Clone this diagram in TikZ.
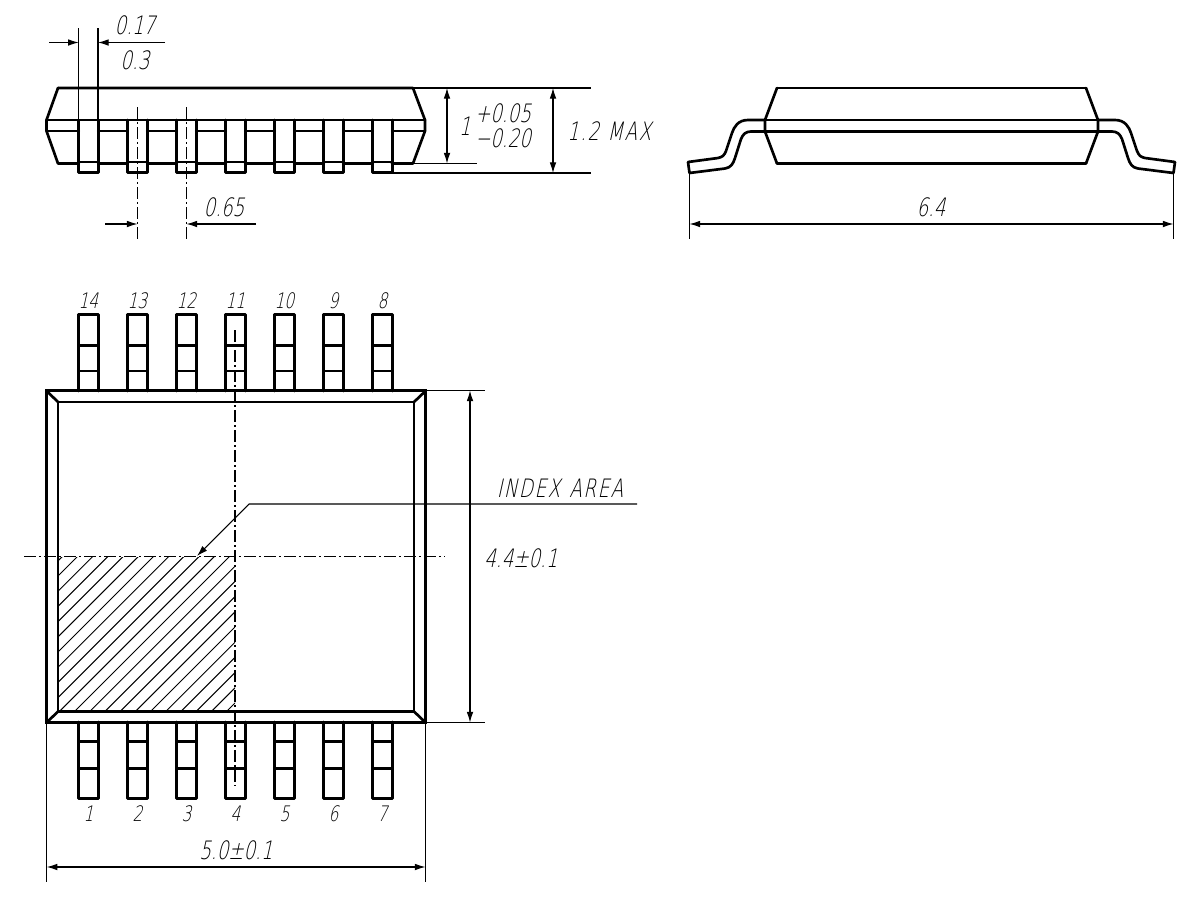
\documentclass[tikz,border=0pt]{standalone}
\usepackage{fontspec}
\usetikzlibrary{arrows.meta}
\newfontfamily\iso[FakeSlant=0.22,FakeStretch=0.72]{DejaVu Sans ExtraLight}
\newfontfamily\isowide[FakeSlant=0.22,FakeStretch=0.72,LetterSpace=6]{DejaVu Sans ExtraLight}
\tikzset{
  x=0.75pt,y=-0.75pt,
  thick line/.style={line width=2pt,line join=round,line cap=round},
  outer line/.style={line width=2.5pt,line join=miter},
  thin line/.style={line width=0.9pt},
  dimline/.style={line width=0.8pt,{Latex[length=8pt,width=5pt]}-{Latex[length=8pt,width=5pt]}},
  arrowto/.style={line width=0.8pt,-{Latex[length=8pt,width=5pt]}},
  center line/.style={line width=0.85pt,dash pattern=on 9pt off 2.2pt on 1.6pt off 2.2pt},
  hatch line/.style={line width=0.75pt},
  lab/.style={inner sep=0pt,font=\iso\fontsize{19}{22}\selectfont},
  labwide/.style={inner sep=0pt,font=\isowide\fontsize{19}{22}\selectfont},
  pin/.style={inner sep=0pt,font=\iso\fontsize{16}{18}\selectfont},
}
\begin{document}
\begin{tikzpicture}
\path[use as bounding box,fill=white] (0,0) rectangle (1200,900);

% ---- side view (left)
\foreach \i in {0,...,6}{
  \pgfmathsetmacro{\xa}{78.7+49*\i}
  \pgfmathsetmacro{\xb}{98.3+49*\i}
  \draw[thick line] (\xa,120) -- (\xa,172.5) -- (\xb,172.5) -- (\xb,120);
  \draw[thick line] (\xa,162) -- (\xb,162);
}
\draw[thick line] (58,88) -- (413,88) -- (425,120) -- (425,131) -- (413,163.5) -- (392,163.5);
\draw[thick line] (58,88) -- (46.5,120) -- (46.5,131) -- (58,163.5) -- (78.7,163.5);
\draw[thick line] (46.5,120) -- (425,120);
\foreach \i in {0,...,5}{
  \pgfmathsetmacro{\xa}{98.3+49*\i}
  \pgfmathsetmacro{\xb}{127.7+49*\i}
  \draw[thick line] (\xa,131) -- (\xb,131);
  \draw[thick line] (\xa,163.5) -- (\xb,163.5);
}
\draw[thick line] (46.5,131) -- (78.7,131);
\draw[thick line] (392.3,131) -- (425,131);

% dimensions of side view
\draw[thin line] (78.7,28) -- (78.7,120);
\draw[thin line] (98,28) -- (98,120);
\coordinate (wa) at (78.7,42.5);
\coordinate (wb) at (98,42.5);
\coordinate (wl) at (49,42.5);
\coordinate (wr) at (165,42.5);
\draw[arrowto] (wl) -- (wa);
\draw[arrowto] (wr) -- (wb);
\node[lab] (t017) at (135,25.5) {0.17};
\node[lab] (t03) at (135,60) {0.3};

\draw[center line] (137.5,107) -- (137.5,240);
\draw[center line] (186.5,107) -- (186.5,240);
\coordinate (pa) at (137.5,224);
\coordinate (pb) at (186.5,224);
\coordinate (pl) at (105,224);
\coordinate (pr) at (256,224);
\draw[arrowto] (pl) -- (pa);
\draw[arrowto] (pr) -- (pb);
\node[lab] (t065) at (224,207) {0.65};

\draw[thin line] (413,88) -- (591,88);
\draw[thin line] (392,173) -- (591,173);
\draw[thin line] (413,163.5) -- (477,163.5);
\coordinate (ha) at (447,88);
\coordinate (hb) at (447,163.5);
\coordinate (hc) at (553,88);
\coordinate (hd) at (553,173);
\draw[dimline] (ha) -- (hb);
\draw[dimline] (hc) -- (hd);
\node[lab] (tone) at (465,126) {1};
\node[lab] (tplus) at (503,113.5) {+0.05};
\node[lab] (tminus) at (503,138) {\char"2212 0.20};
\node[labwide,anchor=west] (tmax) at (567,131) {1.2\hspace{6pt}MAX};

% ---- side view (right)
\foreach \s/\m in {1/0,-1/1863}{
  \draw[thick line] ({\m+\s*777},88) -- ({\m+\s*765},120) -- ({\m+\s*765},131.5) -- ({\m+\s*777},163.5);
  \draw[thick line] ({\m+\s*765},120) -- ({\m+\s*748},120)
     .. controls ({\m+\s*738},120) and ({\m+\s*734},127) .. ({\m+\s*732},133)
     -- ({\m+\s*726},151)
     .. controls ({\m+\s*724},156) and ({\m+\s*722},157) .. ({\m+\s*718},158)
     -- ({\m+\s*688},162) -- ({\m+\s*689.5},173) -- ({\m+\s*725},168.5)
     .. controls ({\m+\s*731},167.5) and ({\m+\s*733},164) .. ({\m+\s*735},158)
     -- ({\m+\s*741},139)
     .. controls ({\m+\s*743},134) and ({\m+\s*746},131.5) .. ({\m+\s*751},131.5)
     -- ({\m+\s*765},131.5);
}
\draw[thick line] (777,88) -- (1086,88);
\draw[thick line] (777,163.5) -- (1086,163.5);
\draw[thick line] (765,120) -- (1098,120);
\draw[thick line] (765,131.5) -- (1098,131.5);
\draw[thin line] (689.5,173) -- (689.5,239);
\draw[thin line] (1173.5,173) -- (1173.5,239);
\coordinate (wide a) at (689.5,224);
\coordinate (wide b) at (1173.5,224);
\draw[dimline] (wide a) -- (wide b);
\node[lab] (t64) at (931,207) {6.4};

% ---- plan view
\foreach \i/\a/\b in {0/14/1,1/13/2,2/12/3,3/11/4,4/10/5,5/9/6,6/8/7}{
  \pgfmathsetmacro{\xa}{78.7+49*\i}
  \pgfmathsetmacro{\xb}{98.3+49*\i}
  \pgfmathsetmacro{\xc}{88.5+49*\i}
  \draw[thick line] (\xa,391) -- (\xa,314.5) -- (\xb,314.5) -- (\xb,391);
  \draw[thick line] (\xa,345.5) -- (\xb,345.5);
  \draw[thick line] (\xa,371) -- (\xb,371);
  \draw[thick line] (\xa,722) -- (\xa,798.5) -- (\xb,798.5) -- (\xb,722);
  \draw[thick line] (\xa,741.5) -- (\xb,741.5);
  \draw[thick line] (\xa,768.5) -- (\xb,768.5);
  \node[pin] (top\i) at (\xc,301) {\a};
  \node[pin] (bot\i) at (\xc,814) {\b};
}
\begin{scope}
  \clip (58,557) rectangle (235,711.5);
  \foreach \k in {-11,...,11}{
    \pgfmathsetmacro{\c}{786+15.2*\k}
    \draw[hatch line] ({\c-800},800) -- ({\c-500},500);
  }
\end{scope}
\draw[outer line] (46.7,390.8) rectangle (425.5,722.5);
\draw[thick line] (58,402) rectangle (414,711.5);
\draw[thick line] (46.7,391) -- (58,402);
\draw[thick line] (425.5,391) -- (414,402);
\draw[thick line] (46.7,722.5) -- (58,711.5);
\draw[thick line] (425.5,722.5) -- (414,711.5);

\draw[center line] (235,330) -- (235,785);
\draw[center line] (24,556.7) -- (445,556.7);

% index area leader
\coordinate (ia) at (637,504);
\coordinate (ib) at (249,504);
\coordinate (ic) at (197,556);
\draw[arrowto] (ia) -- (ib) -- (ic);
\node[labwide] (tindex) at (560,488) {INDEX\hspace{7pt}AREA};

% 4.4 dimension
\draw[thin line] (425.5,390.5) -- (485,390.5);
\draw[thin line] (425.5,722.5) -- (485,722.5);
\coordinate (va) at (470,390.5);
\coordinate (vb) at (470,722.5);
\draw[dimline] (va) -- (vb);
\node[lab] (t44) at (521,558) {4.4±0.1};

% 5.0 dimension
\draw[thin line] (46.7,722.5) -- (46.7,882);
\draw[thin line] (425.5,722.5) -- (425.5,882);
\coordinate (ba) at (46.7,867);
\coordinate (bb) at (425.5,867);
\draw[dimline] (ba) -- (bb);
\node[lab] (t50) at (236,850) {5.0±0.1};
\end{tikzpicture}
\end{document}
